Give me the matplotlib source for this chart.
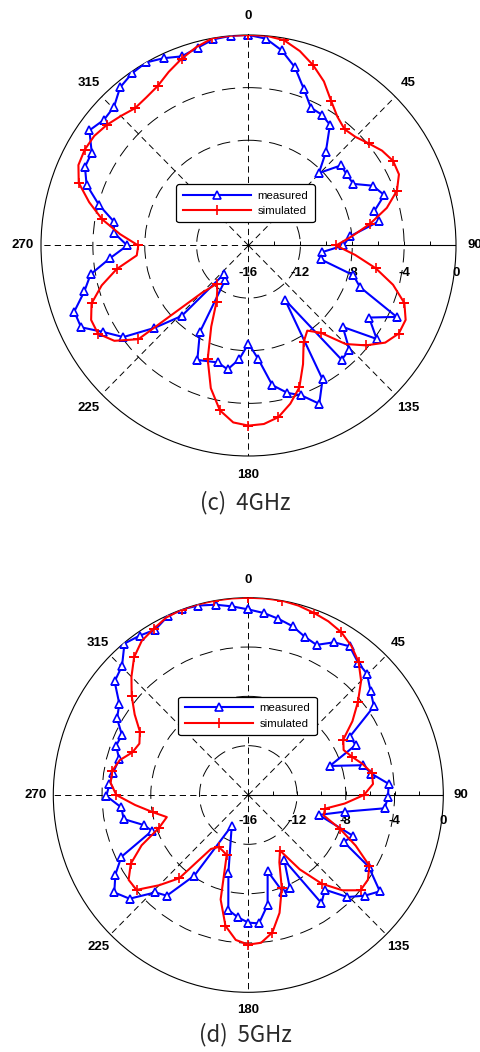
import numpy as np
import matplotlib
matplotlib.use('Agg')
from matplotlib import pyplot as plt
from matplotlib.lines import TICKUP

plt.rcParams['font.family'] = ['Liberation Sans', 'DejaVu Sans']
plt.rcParams['lines.scale_dashes'] = False

################################################################################
### Radiation patterns (normalized gain, dB)
################################################################################
# 4 GHz measured: angle (deg), gain (dB)
ang_4g_meas = [0, 4.9, 9.8, 14.8, 19.8, 24.7, 29.6, 34.4, 40.1, 44.6,
               49.5, 54.5, 59.9, 64.6, 69.9, 74.9, 79.6, 84.9, 90, 95.2,
               100.7, 105.6, 110.2, 115.4, 120.5, 125.7, 130.4, 135.5, 140.4, 145.7,
               150.7, 155.6, 160.4, 165, 170.2, 175, 180, 184.7, 189.7, 195,
               204.4, 209.7, 214.3, 221, 223.9, 229.2, 234.2, 239.6, 244.3, 249.5,
               254.6, 259.8, 264.8, 270, 275.3, 279.9, 285, 290.3, 295.3, 300.3,
               305.5, 310.6, 315.5, 320.5, 325.5, 330.4, 335.3, 340.3, 345.4, 350.2,
               355.2]
db_4g_meas = [0, -0.22, -0.95, -1.99, -3.38, -4.48, -4.56, -4.88, -6.75, -8.27,
              -6.62, -6.7, -6.66, -5.4, -4.85, -5.95, -5.74, -8.14, -8.69, -10.33,
              -10.33, -7.61, -6.84, -3.35, -5.21, -3.83, -6.45, -4.91, -4.73, -11.0,
              -4.33, -2.79, -3.92, -4.4, -5.23, -7.33, -8.55, -7.33, -6.45, -6.8,
              -6.45, -8.44, -12.78, -13.16, -8.57, -6.41, -4.1, -3.01, -1.67, -1.66,
              -2.87, -3.63, -5.27, -6.65, -5.58, -5.47, -4.06, -2.69, -2.05, -2.0,
              -0.93, -1.32, -1.21, -0.43, -0.13, 0, -0.33, -0.73, -0.46, -0.1,
              0]

# 4 GHz simulated, every 5 deg
ang_4g_sim = np.arange(0, 360, 5)
db_4g_sim = [0, 0, -0.16, -0.7, -1.42, -2.24, -3.28, -4.05, -4.47, -4.33,
             -3.92, -3.43, -3.13, -3.2, -3.82, -4.96, -6.48, -8.0, -9.25, -7.74,
             -6.04, -4.46, -3.21, -2.63, -2.62, -3.13, -4.19, -5.41, -7.35, -8.1,
             -7.5, -6.05, -4.53, -3.55, -2.75, -2.38, -2.31, -2.5, -3.28, -4.77,
             -6.8, -9.2, -11.07, -11.8, -12.2, -10.9, -4.92, -3.37, -2.6, -2.61,
             -3.12, -4.28, -5.68, -7.35, -7.5, -6.05, -4.54, -3.28, -2.07, -1.53,
             -1.42, -1.48, -1.74, -2.08, -2.38, -2.26, -2.0, -1.44, -0.9, -0.4,
             0, 0]

# 5 GHz measured
ang_5g_meas = [0, 5.0, 9.8, 14.9, 19.9, 24.7, 29.6, 34.6, 40, 44.7,
               50, 55.1, 60.4, 65.3, 70.6, 75.6, 80.3, 85.5, 90.9, 95.5,
               99.7, 105.6, 111.1, 115.9, 120.5, 125.9, 130.5, 135.5, 140.7, 145.6,
               150.8, 155.7, 160.1, 165.6, 169.9, 175.2, 180, 185, 190, 194.5,
               208.6, 214.1, 219.3, 224, 229.2, 234.3, 239.4, 244.3, 249.8, 254.2,
               259.2, 264.5, 269.6, 274.3, 279.1, 285.5, 290.2, 295.2, 300, 304.9,
               310, 315.3, 320.4, 325.4, 330.3, 335.5, 340.2, 345.1, 350.2, 355.1]
db_5g_meas = [-0.95, -1.19, -1.5, -1.84, -2.36, -2.6, -1.76, -1.35, -1.99, -2.16,
              -2.9, -3.43, -6.42, -6.3, -8.91, -6.28, -5.75, -4.45, -4.54, -4.76,
              -7.97, -9.99, -6.79, -7.29, -4.53, -2.68, -3.43, -4.4, -6.08, -5.37,
              -9.95, -7.72, -7.6, -9.62, -6.96, -5.55, -5.65, -6.05, -6.54, -9.48,
              -13.16, -8.11, -5.45, -5.02, -3.13, -2.46, -3.33, -4.44, -7.58, -7.07,
              -5.59, -5.53, -4.35, -4.57, -4.76, -5.0, -4.44, -4.54, -3.56, -3.1,
              -1.68, -1.27, -0.06, -0.3, -0.57, -0.07, 0, -0.1, -0.34, -0.65]

# 5 GHz simulated, every 5 deg
ang_5g_sim = np.arange(0, 360, 5)
db_5g_sim = [0, 0, 0, -0.1, -0.28, -0.46, -0.75, -1.25, -1.92, -2.91,
             -4.26, -5.57, -7.0, -7.37, -6.94, -6.29, -5.7, -5.73, -6.51, -8.06,
             -9.61, -9.6, -8.0, -6.28, -4.53, -4.02, -3.98, -5.07, -6.6, -8.63,
             -10.8, -9.97, -7.97, -6.1, -4.67, -3.97, -3.87, -4.2, -5.22, -7.23,
             -10.82, -11.02, -11.13, -10.66, -7.19, -5.65, -4.03, -4.01, -4.87, -6.34,
             -8.2, -9.08, -8.02, -6.68, -5.17, -4.66, -4.67, -5.08, -5.88, -6.14,
             -5.73, -4.62, -3.51, -2.44, -1.42, -0.75, -0.45, -0.11, 0, 0,
             0, 0]

r_ticks = [-16, -12, -8, -4, 0]
r_ticklabels = ['-16', '-12', '-8', '-4', '0']
theta_labels = ['0', '45', '90', '135', '180', '225', '270', '315']


def closed(ang, db):
    # repeat the first sample so the trace closes on itself
    ang = np.asarray(ang, dtype=float)
    db = np.asarray(db, dtype=float)
    return np.deg2rad(np.r_[ang, ang[0] + 360]), np.r_[db, db[0]]


def draw_pattern(ax, ang_m, db_m, ang_s, db_s, legend_xy, label_drop):
    ax.set_theta_zero_location('N')
    ax.set_theta_direction(-1)
    ax.set_aspect('auto')
    ax.set_rlim(-16, 0)

    # grid: dashed rings and dashed spokes
    ax.set_yticks([-12, -8, -4])
    ax.set_yticklabels([])
    ax.tick_params(axis='y', length=0)
    ax.yaxis.grid(True, color='k', lw=0.7, ls=(0, (9.5, 5.5)))
    ax.set_xticks(np.deg2rad(np.arange(0, 360, 45)))
    ax.set_xticklabels([])
    ax.xaxis.grid(True, color='k', lw=0.7, ls=(0, (4.5, 3)))
    ax.set_xticks(np.deg2rad(np.arange(22.5, 360, 45)), minor=True)
    ax.tick_params(axis='x', which='major', length=0)
    ax.tick_params(axis='x', which='minor', direction='in', length=3.8, width=0.7)
    ax.spines['polar'].set_linewidth(0.8)

    # solid radial axis towards 90 deg with small ticks every 2 dB
    ax.plot([np.pi / 2, np.pi / 2], [-16, 0], color='k', lw=0.8, zorder=2)
    ax.plot(np.full(8, np.pi / 2), np.arange(-14, 1, 2), ls='none',
            marker=TICKUP, ms=3, mew=0.7, color='k', zorder=2)
    for v, lbl in zip(r_ticks, r_ticklabels):
        ax.annotate(lbl, xy=(np.pi / 2, v), xytext=(0, -label_drop),
                    textcoords='offset pixels', ha='center', va='center',
                    fontsize=9.5, fontweight='bold', annotation_clip=False)
    for k, lbl in enumerate(theta_labels):
        ax.text(np.deg2rad(45 * k), 1.42, lbl, ha='center', va='center',
                fontsize=9.5, fontweight='bold', clip_on=False)

    t, r = closed(ang_m, db_m)
    ax.plot(t, r, color='b', lw=1.5, marker='^', ms=6, mfc='white',
            mec='b', mew=1.2, label='measured', zorder=3)
    t, r = closed(ang_s, db_s)
    ax.plot(t, r, color='r', lw=1.5, marker='+', ms=7, mew=1.2,
            markevery=2, label='simulated', zorder=4)

    leg = ax.legend(loc='center', bbox_to_anchor=legend_xy,
                    bbox_transform=ax.figure.transFigure, fontsize=8.2,
                    handlelength=6, handletextpad=0.6, labelspacing=0.45,
                    borderpad=0.55, numpoints=1, fancybox=True, framealpha=1)
    leg.get_frame().set_edgecolor('k')
    leg.get_frame().set_linewidth(0.9)


fig = plt.figure(figsize=(4.81, 10.52), dpi=100)
W, H = 481.0, 1052.0

# upper plot: 4 GHz
ax1 = fig.add_axes([41 / W, 1 - 456 / H, 415 / W, 421 / H], projection='polar')
draw_pattern(ax1, ang_4g_meas, db_4g_meas, ang_4g_sim, db_4g_sim,
             (245.5 / W, 1 - 203.3 / H), 28)
fig.text(245 / W, 1 - 503 / H, '(c)  4GHz', ha='center', va='center',
         fontsize=16, family=['Noto Sans CJK KR', 'DejaVu Sans'], color='#2a2a2a')

# lower plot: 5 GHz
ax2 = fig.add_axes([53.3 / W, 1 - 992.3 / H, 390 / W, 394.6 / H], projection='polar')
draw_pattern(ax2, ang_5g_meas, db_5g_meas, ang_5g_sim, db_5g_sim,
             (247.5 / W, 1 - 716 / H), 26)
fig.text(245 / W, 1 - 1035 / H, '(d)  5GHz', ha='center', va='center',
         fontsize=16, family=['Noto Sans CJK KR', 'DejaVu Sans'], color='#2a2a2a')

fig.savefig('out.png', dpi=100, facecolor='white')
